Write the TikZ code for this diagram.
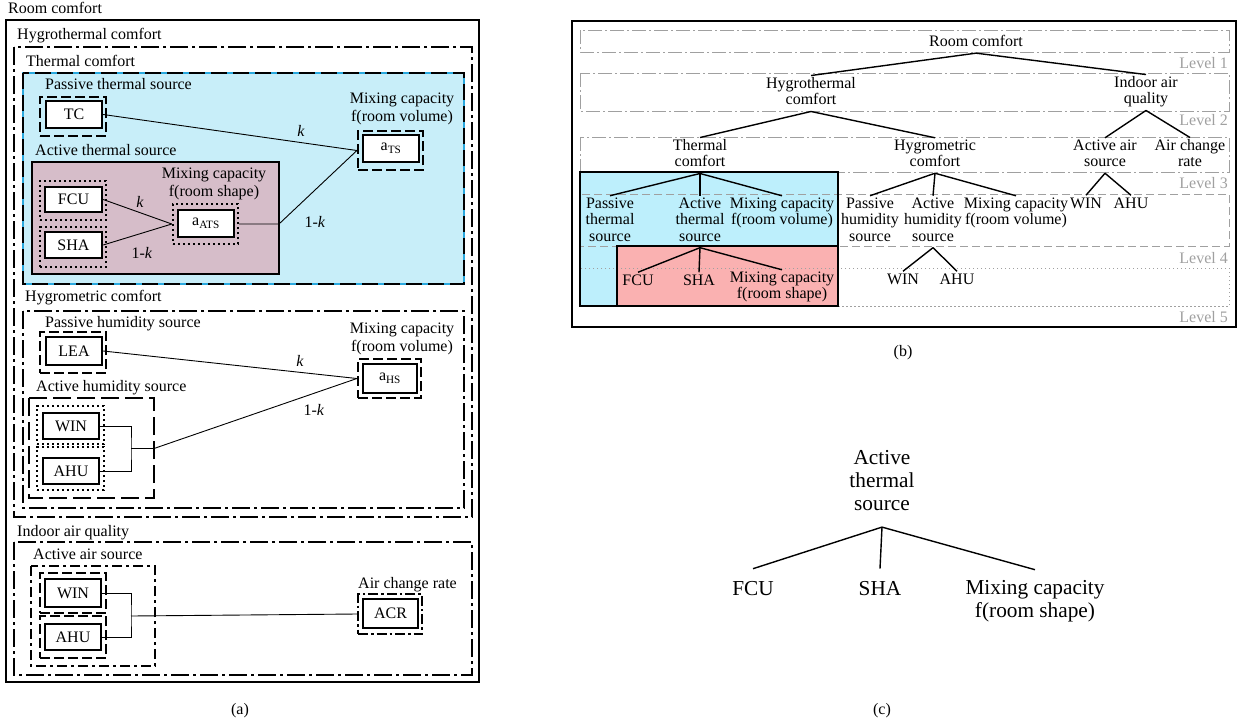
\documentclass[tikz,border=0pt]{standalone}
\usepackage{fontspec}
\setmainfont{Liberation Serif}
\definecolor{thermfill}{HTML}{C8EEF9}
\definecolor{thermline}{HTML}{2AA9DF}
\definecolor{activefill}{HTML}{D6BDC9}
\definecolor{bluefill}{HTML}{BDEFFC}
\definecolor{redfill}{HTML}{FAB1B1}
\definecolor{lvlgray}{HTML}{A0A0A0}
\newcommand{\myfa}{\fontsize{16}{18}\selectfont}
\newcommand{\myfb}{\fontsize{16}{16.5}\selectfont}
\newcommand{\myfc}{\fontsize{21.3}{23}\selectfont}
\tikzset{
  lbl/.style={inner sep=0pt, font=\myfa, anchor=west, execute at begin node=\strut},
  clbl/.style={inner sep=0pt, font=\myfa, align=center, execute at begin node=\strut, execute at end node=\strut},
  klbl/.style={inner sep=0pt, font=\myfa},
  inbox/.style={draw, line width=2.4pt, fill=white, inner sep=0pt, font=\myfa},
  odash/.style={draw, line width=2.2pt, dash pattern=on 10pt off 4pt, inner sep=0pt},
  odot/.style={draw, line width=2.4pt, dash pattern=on 2.2pt off 2.8pt, inner sep=0pt},
  oddot/.style={draw, line width=2.2pt, dash pattern=on 10pt off 3pt on 2.5pt off 3pt, inner sep=0pt},
  gsolid/.style={line width=2pt},
  gdd/.style={line width=2pt, dash pattern=on 18pt off 4pt on 3pt off 4pt},
  glong/.style={line width=2pt, dash pattern=on 18pt off 6pt},
  gsdd/.style={line width=2pt, dash pattern=on 10pt off 4pt on 3pt off 4pt},
  conn/.style={line width=0.9pt},
  tree/.style={line width=1.4pt},
  lvlA/.style={draw=lvlgray, line width=1pt, dash pattern=on 14pt off 3pt on 2pt off 3pt},
  lvlB/.style={draw=lvlgray, line width=1pt, dash pattern=on 8pt off 4pt},
  lvlC/.style={draw=lvlgray, line width=1pt, dash pattern=on 1.5pt off 2.5pt},
  lvltxt/.style={font=\myfb, text=lvlgray, anchor=east, inner sep=0pt},
  bt/.style={inner ysep=1.5pt, inner xsep=0pt, font=\myfb, align=center, execute at begin node=\strut, execute at end node=\strut},
  ct/.style={inner ysep=10pt, inner xsep=0pt, font=\myfc, align=center, execute at begin node=\strut, execute at end node=\strut},
}
\begin{document}
\begin{tikzpicture}[x=1pt, y=-1pt]
\useasboundingbox (0,0) rectangle (1240,721);

%% ================= (a) =================
% group boxes
\draw[gsolid] (6,20) rectangle (479,682);
\draw[gdd] (14,47) rectangle (472,517);
\fill[thermfill] (23,73) rectangle (464,284);
\draw[thermline, line width=2pt] (23,73) rectangle (464,284);
\draw[line width=2pt, dash pattern=on 16pt off 6pt] (23,73) rectangle (464,284);
\draw[line width=2.5pt, fill=activefill] (32,162) rectangle (279,274);
\draw[gdd] (23,311) rectangle (464,508);
\draw[glong] (29,398) rectangle (154,498);
\draw[gdd] (14,542) rectangle (472,675);
\draw[gsdd] (31,566) rectangle (155,666);

% labels
\node[lbl] (a-room) at (8,10) {Room comfort};
\node[lbl] (a-hygro) at (17,36) {Hygrothermal comfort};
\node[lbl] (a-therm) at (26,63) {Thermal comfort};
\node[lbl] (a-pts) at (45,86) {Passive thermal source};
\node[clbl] (a-mcv1) at (402,110) {Mixing capacity\\f(room volume)};
\node[lbl] (a-ats) at (35,152) {Active thermal source};
\node[clbl] (a-mcs) at (214,185) {Mixing capacity\\f(room shape)};
\node[lbl] (a-hgm) at (25,298) {Hygrometric comfort};
\node[lbl] (a-phs) at (45,324) {Passive humidity source};
\node[clbl] (a-mcv2) at (402,340) {Mixing capacity\\f(room volume)};
\node[lbl] (a-ahs) at (36,388) {Active humidity source};
\node[lbl] (a-iaq) at (17,533) {Indoor air quality};
\node[lbl] (a-aas) at (33,556) {Active air source};
\node[lbl] (a-acrl) at (358,585) {Air change rate};
\node[clbl] (a-cap) at (240,711) {(a)};

% outer decorative boxes
\node[odash, minimum width=66pt, minimum height=39pt] (tcO) at (73,116.5) {};
\node[odash, minimum width=65pt, minimum height=39pt] (atsO) at (390.5,150.5) {};
\node[odot, minimum width=66pt, minimum height=39pt] (fcuO) at (73,200.5) {};
\node[odot, minimum width=66pt, minimum height=40pt] (shaO) at (73,247) {};
\node[odot, minimum width=65pt, minimum height=40pt] (aatsO) at (205.5,224) {};
\node[odash, minimum width=66pt, minimum height=41pt] (leaO) at (73,352.5) {};
\node[odash, minimum width=63pt, minimum height=39pt] (ahsO) at (389.5,378.5) {};
\node[odot, minimum width=67pt, minimum height=38pt] (winhO) at (70.5,425) {};
\node[odot, minimum width=67pt, minimum height=43pt] (ahuhO) at (70.5,468.5) {};
\node[odash, minimum width=66pt, minimum height=40pt] (winaO) at (73,593) {};
\node[odash, minimum width=66pt, minimum height=42pt] (ahuaO) at (73,637) {};
\node[oddot, minimum width=64pt, minimum height=40pt] (acrO) at (390,614) {};

% inner boxes
\node[inbox, minimum width=56pt, minimum height=27pt] (tc) at (74,114.5) {TC};
\node[inbox, minimum width=56pt, minimum height=27pt] (ats) at (391,148.5) {a\textsubscript{TS}};
\node[inbox, minimum width=57pt, minimum height=25pt] (fcu) at (73.5,199.5) {FCU};
\node[inbox, minimum width=57pt, minimum height=26pt] (sha) at (73.5,245) {SHA};
\node[inbox, minimum width=56pt, minimum height=27pt] (aats) at (206,223.5) {a\textsubscript{ATS}};
\node[inbox, minimum width=56pt, minimum height=28pt] (lea) at (74,351) {LEA};
\node[inbox, minimum width=54pt, minimum height=29pt] (ahs) at (390,378.5) {a\textsubscript{HS}};
\node[inbox, minimum width=56pt, minimum height=26pt] (winh) at (71,426) {WIN};
\node[inbox, minimum width=56pt, minimum height=26pt] (ahuh) at (71,471) {AHU};
\node[inbox, minimum width=56pt, minimum height=28pt] (wina) at (73,593) {WIN};
\node[inbox, minimum width=56pt, minimum height=26pt] (ahua) at (73,637) {AHU};
\node[inbox, minimum width=55pt, minimum height=29pt] (acr) at (390.5,613.5) {ACR};

% connectors
\coordinate (atsexit) at (279,224);
\coordinate (hj) at (131,448.5);
\coordinate (hjx) at (154,448.5);
\coordinate (aj) at (131,616);
\draw[conn] (tc.east) -- (atsO.west);
\draw[conn] (fcu.east) -- (aatsO.west);
\draw[conn] (sha.east) -- (aatsO.west);
\draw[conn] (aatsO.east) -- (atsexit) -- (atsO.west);
\draw[conn] (lea.east) -- (ahsO.west);
\draw[conn] (winh.east) -| (hj) |- (ahuh.east);
\draw[conn] (hj) -- (hjx) -- (ahsO.west);
\draw[conn] (wina.east) -| (aj) |- (ahua.east);
\draw[conn] (aj) -- (acrO.west);
\node[klbl] (k1) at (301,131) {\textit{k}};
\node[klbl] (k2) at (140,202) {\textit{k}};
\node[klbl] (k3) at (142,253) {1-\textit{k}};
\node[klbl] (k4) at (315,222) {1-\textit{k}};
\node[klbl] (k5) at (300,361) {\textit{k}};
\node[klbl] (k6) at (314,410) {1-\textit{k}};

%% ================= (b) =================
\fill[bluefill] (580,172) rectangle (838,306);
\fill[redfill] (617,246) rectangle (838,306);
\draw[lvlA] (580,30) rectangle (1229,52);
\draw[lvlA] (580,73) rectangle (1229,111);
\draw[lvlA] (580,137) rectangle (1229,172);
\draw[lvlB] (580,194) rectangle (1229,246);
\draw[lvlC] (580,268) rectangle (1229,306);
\draw[line width=2pt] (580,172) rectangle (838,306);
\draw[line width=2pt] (617,246) rectangle (838,306);
\draw[line width=1.2pt] (572,21) rectangle (1236,327);

\node[lvltxt] (lv1) at (1228,63) {Level 1};
\node[lvltxt] (lv2) at (1228,120) {Level 2};
\node[lvltxt] (lv3) at (1228,183) {Level 3};
\node[lvltxt] (lv4) at (1228,258) {Level 4};
\node[lvltxt] (lv5) at (1228,317) {Level 5};

\node[bt] (b-rc) at (976,43.2) {Room comfort};
\node[bt] (b-ht) at (811,93.5) {Hygrothermal\\comfort};
\node[bt] (b-iaq) at (1146,92.5) {Indoor air\\quality};
\node[bt] (b-thc) at (700,155.5) {Thermal\\comfort};
\node[bt] (b-hgc) at (935,155.5) {Hygrometric\\comfort};
\node[bt] (b-aas) at (1105,155.5) {Active air\\source};
\node[bt] (b-acr) at (1190,155.5) {Air change\\rate};
\node[bt] (b-pts) at (610,221.7) {Passive\\thermal\\source};
\node[bt] (b-ats) at (700,221.7) {Active\\thermal\\source};
\node[bt] (b-mcv) at (782,213.5) {Mixing capacity\\f(room volume)};
\node[bt] (b-phs) at (870,221.7) {Passive\\humidity\\source};
\node[bt] (b-ahs) at (933,221.7) {Active\\humidity\\source};
\node[bt] (b-mcv2) at (1016,213.5) {Mixing capacity\\f(room volume)};
\node[bt] (b-win4) at (1086,205.2) {WIN};
\node[bt] (b-ahu4) at (1131,205.2) {AHU};
\node[bt] (b-fcu) at (638,282.2) {FCU};
\node[bt] (b-sha) at (699,282.2) {SHA};
\node[bt] (b-mcs) at (782,287.5) {Mixing capacity\\f(room shape)};
\node[bt] (b-win5) at (903,281.2) {WIN};
\node[bt] (b-ahu5) at (957,281.2) {AHU};
\node[clbl] (b-cap) at (903,353) {(b)};

\draw[tree] (b-rc.south) -- (b-ht.north);
\draw[tree] (b-rc.south) -- (b-iaq.north);
\draw[tree] (b-ht.south) -- (b-thc.north);
\draw[tree] (b-ht.south) -- (b-hgc.north);
\draw[tree] (b-iaq.south) -- (b-aas.north);
\draw[tree] (b-iaq.south) -- (b-acr.north);
\draw[tree] (b-thc.south) -- (b-pts.north);
\draw[tree] (b-thc.south) -- (b-ats.north);
\draw[tree] (b-thc.south) -- (b-mcv.north);
\draw[tree] (b-hgc.south) -- (b-phs.north);
\draw[tree] (b-hgc.south) -- (b-ahs.north);
\draw[tree] (b-hgc.south) -- (b-mcv2.north);
\draw[tree] (b-aas.south) -- (b-win4.north);
\draw[tree] (b-aas.south) -- (b-ahu4.north);
\draw[tree] (b-ats.south) -- (b-fcu.north);
\draw[tree] (b-ats.south) -- (b-sha.north);
\draw[tree] (b-ats.south) -- (b-mcs.north);
\draw[tree] (b-ahs.south) -- (b-win5.north);
\draw[tree] (b-ahs.south) -- (b-ahu5.north);

%% ================= (c) =================
\node[ct] (c-ats) at (882,483.4) {Active\\thermal\\source};
\node[ct] (c-fcu) at (753,590.4) {FCU};
\node[ct] (c-sha) at (880,590.4) {SHA};
\node[ct] (c-mcs) at (1035,601.9) {Mixing capacity\\f(room shape)};
\draw[tree] (c-ats.south) -- (c-fcu.north);
\draw[tree] (c-ats.south) -- (c-sha.north);
\draw[tree] (c-ats.south) -- (c-mcs.north);
\node[clbl] (c-cap) at (882,711) {(c)};
\end{tikzpicture}
\end{document}
